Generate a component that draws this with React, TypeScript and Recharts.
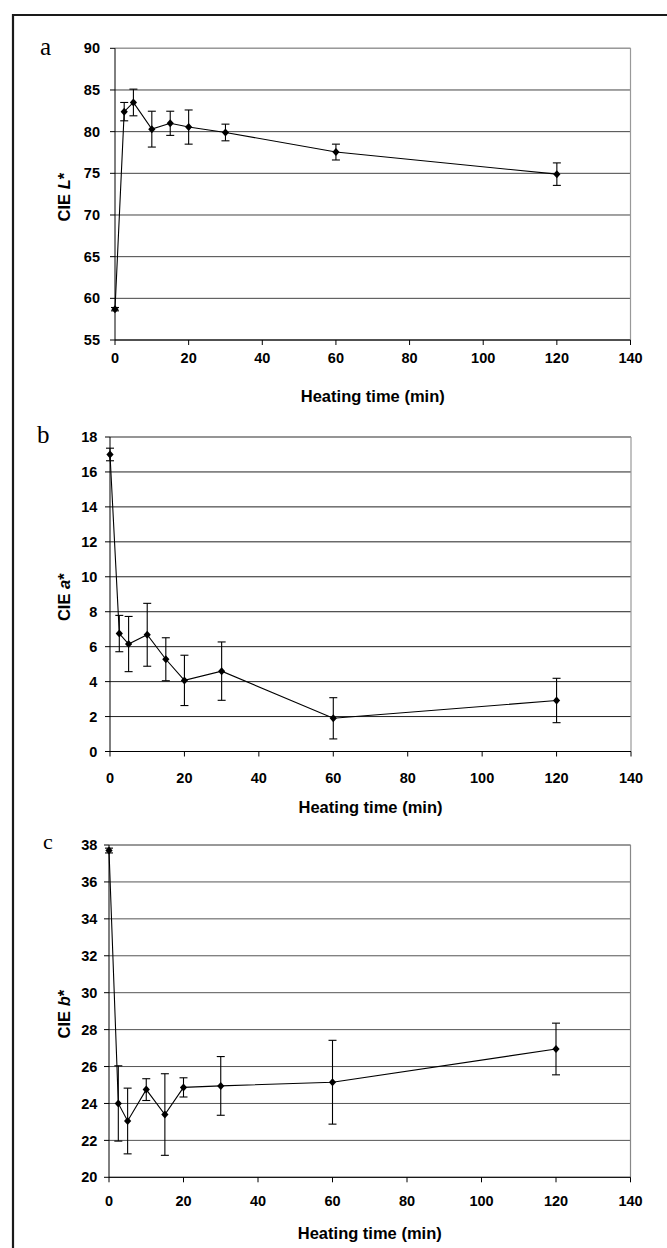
import React from 'react';
import { LineChart, Line, XAxis, YAxis, CartesianGrid, ErrorBar, ReferenceLine } from 'recharts';

// ---- data ----
const times = [0, 2.5, 5, 10, 15, 20, 30, 60, 120];

const lValues = [58.7, 82.4, 83.5, 80.3, 81.0, 80.55, 79.9, 77.55, 74.9];
const lErrors = [0.2, 1.1, 1.6, 2.15, 1.45, 2.05, 1.0, 0.95, 1.35];

const aValues = [17.0, 6.75, 6.15, 6.68, 5.28, 4.07, 4.6, 1.9, 2.92];
const aErrors = [0.36, 1.04, 1.58, 1.8, 1.23, 1.44, 1.67, 1.18, 1.27];

const bValues = [37.7, 24.0, 23.05, 24.75, 23.4, 24.87, 24.95, 25.15, 26.95];
const bErrors = [0.13, 2.04, 1.78, 0.59, 2.21, 0.52, 1.59, 2.27, 1.4];

const xTicks = [0, 20, 40, 60, 80, 100, 120, 140];
const lTicks = [55, 60, 65, 70, 75, 80, 85, 90];
const aTicks = [0, 2, 4, 6, 8, 10, 12, 14, 16, 18];
const bTicks = [20, 22, 24, 26, 28, 30, 32, 34, 36, 38];

const xTitle = 'Heating time (min)';
const panelLetters = ['a', 'b', 'c'];
const yVars = ['L', 'a', 'b'];

const build = (vals: number[], errs: number[]) =>
  times.map((t, i) => ({ t, v: vals[i], e: errs[i] }));

const SANS = "'Liberation Sans', Arial, Helvetica, sans-serif";
const SERIF = "'Liberation Serif', 'Times New Roman', serif";

const Diamond = (props: any) => {
  const { cx, cy, index } = props;
  if (cx == null || cy == null) return <g key={`d-${index}`} />;
  return (
    <path
      key={`d-${index}`}
      d={`M${cx},${cy - 4} L${cx + 3.6},${cy} L${cx},${cy + 4} L${cx - 3.6},${cy} Z`}
      fill="#000"
      stroke="none"
    />
  );
};

type PanelProps = {
  data: any[];
  yTicks: number[];
  yVar: string;
  top: number;
  height: number;
  marginTop: number;
  marginRight: number;
  marginBottom: number;
  yAxisWidth: number;
  yTickMargin: number;
  xTickMargin: number;
  gridStroke: string;
  edgeStroke: string;
};

function Panel(p: PanelProps) {
  const yMin = p.yTicks[0];
  const yMax = p.yTicks[p.yTicks.length - 1];
  const tickStyle = { fontFamily: SANS, fontWeight: 700, fontSize: 14.5, fill: '#000' };
  return (
    <div style={{ position: 'absolute', left: 0, top: p.top, width: 667, height: p.height }}>
      <LineChart
        width={667}
        height={p.height}
        data={p.data}
        margin={{ top: p.marginTop, right: p.marginRight, bottom: p.marginBottom, left: 0 }}
      >
        <CartesianGrid horizontal vertical={false} stroke={p.gridStroke} strokeWidth={1} />
        <ReferenceLine y={yMax} stroke={p.edgeStroke} strokeWidth={1.2} />
        <ReferenceLine x={140} stroke={p.edgeStroke} strokeWidth={1.2} />
        <XAxis
          dataKey="t"
          type="number"
          domain={[0, 140]}
          ticks={xTicks}
          interval={0}
          height={70}
          tickSize={5}
          tickMargin={p.xTickMargin}
          axisLine={{ stroke: '#000', strokeWidth: 1 }}
          tickLine={{ stroke: '#000', strokeWidth: 1 }}
          tick={tickStyle}
          label={(lp: any) => {
            const vb = lp.viewBox || {};
            const x = vb.x + vb.width / 2;
            const y = vb.y + 56;
            return (
              <text
                x={x}
                y={y}
                dy="0.36em"
                textAnchor="middle"
                fontFamily={SANS}
                fontWeight={700}
                fontSize={16.5}
                fill="#000"
              >
                {xTitle}
              </text>
            );
          }}
        />
        <YAxis
          type="number"
          domain={[yMin, yMax]}
          ticks={p.yTicks}
          interval={0}
          width={p.yAxisWidth}
          tickSize={5}
          tickMargin={p.yTickMargin}
          axisLine={{ stroke: '#000', strokeWidth: 1 }}
          tickLine={{ stroke: '#000', strokeWidth: 1 }}
          tick={tickStyle}
          allowDataOverflow
          label={(lp: any) => {
            const vb = lp.viewBox || {};
            const x = 64;
            const y = vb.y + vb.height / 2 + 3;
            return (
              <text
                x={x}
                y={y}
                dy="0.36em"
                transform={`rotate(-90 ${x} ${y})`}
                textAnchor="middle"
                fontFamily={SANS}
                fontWeight={700}
                fontSize={16.5}
                fill="#000"
              >
                {'CIE '}
                <tspan fontStyle="italic">{p.yVar}</tspan>
                {'*'}
              </text>
            );
          }}
        />
        <Line
          dataKey="v"
          type="linear"
          stroke="#000"
          strokeWidth={1.1}
          dot={Diamond}
          activeDot={false}
          isAnimationActive={false}
        >
          <ErrorBar dataKey="e" direction="y" width={4} stroke="#000" strokeWidth={1.1} isAnimationActive={false} />
        </Line>
      </LineChart>
    </div>
  );
}

export default function App() {
  return (
    <div style={{ position: 'absolute', left: 0, top: 0, width: 667, height: 1248, background: '#fff', overflow: 'hidden' }}>
      <svg width={667} height={1248} style={{ position: 'absolute', left: 0, top: 0 }}>
        <line x1={13} y1={14} x2={13} y2={1248} stroke="#1a1a1a" strokeWidth={2.2} />
        <line x1={12} y1={15} x2={667} y2={15} stroke="#1a1a1a" strokeWidth={2.2} />
        <text x={40} y={55} fontFamily={SERIF} fontSize={25} fill="#000">{panelLetters[0]}</text>
        <text x={37} y={443} fontFamily={SERIF} fontSize={25} fill="#000">{panelLetters[1]}</text>
        <text x={43} y={849} fontFamily={SERIF} fontSize={22} fill="#000">{panelLetters[2]}</text>
      </svg>
      <Panel
        data={build(lValues, lErrors)}
        yTicks={lTicks}
        yVar={yVars[0]}
        top={20}
        height={395}
        marginTop={28.3}
        marginRight={36.5}
        marginBottom={5}
        yAxisWidth={115}
        yTickMargin={10}
        xTickMargin={7.5}
        gridStroke="#444"
        edgeStroke="#999"
      />
      <Panel
        data={build(aValues, aErrors)}
        yTicks={aTicks}
        yVar={yVars[1]}
        top={410}
        height={415}
        marginTop={27}
        marginRight={36}
        marginBottom={3.5}
        yAxisWidth={110}
        yTickMargin={7.7}
        xTickMargin={16.5}
        gridStroke="#222"
        edgeStroke="#999"
      />
      <Panel
        data={build(bValues, bErrors)}
        yTicks={bTicks}
        yVar={yVars[2]}
        top={820}
        height={428}
        marginTop={25}
        marginRight={36.5}
        marginBottom={0.7}
        yAxisWidth={109}
        yTickMargin={6.7}
        xTickMargin={13.5}
        gridStroke="#555"
        edgeStroke="#888"
      />
    </div>
  );
}
